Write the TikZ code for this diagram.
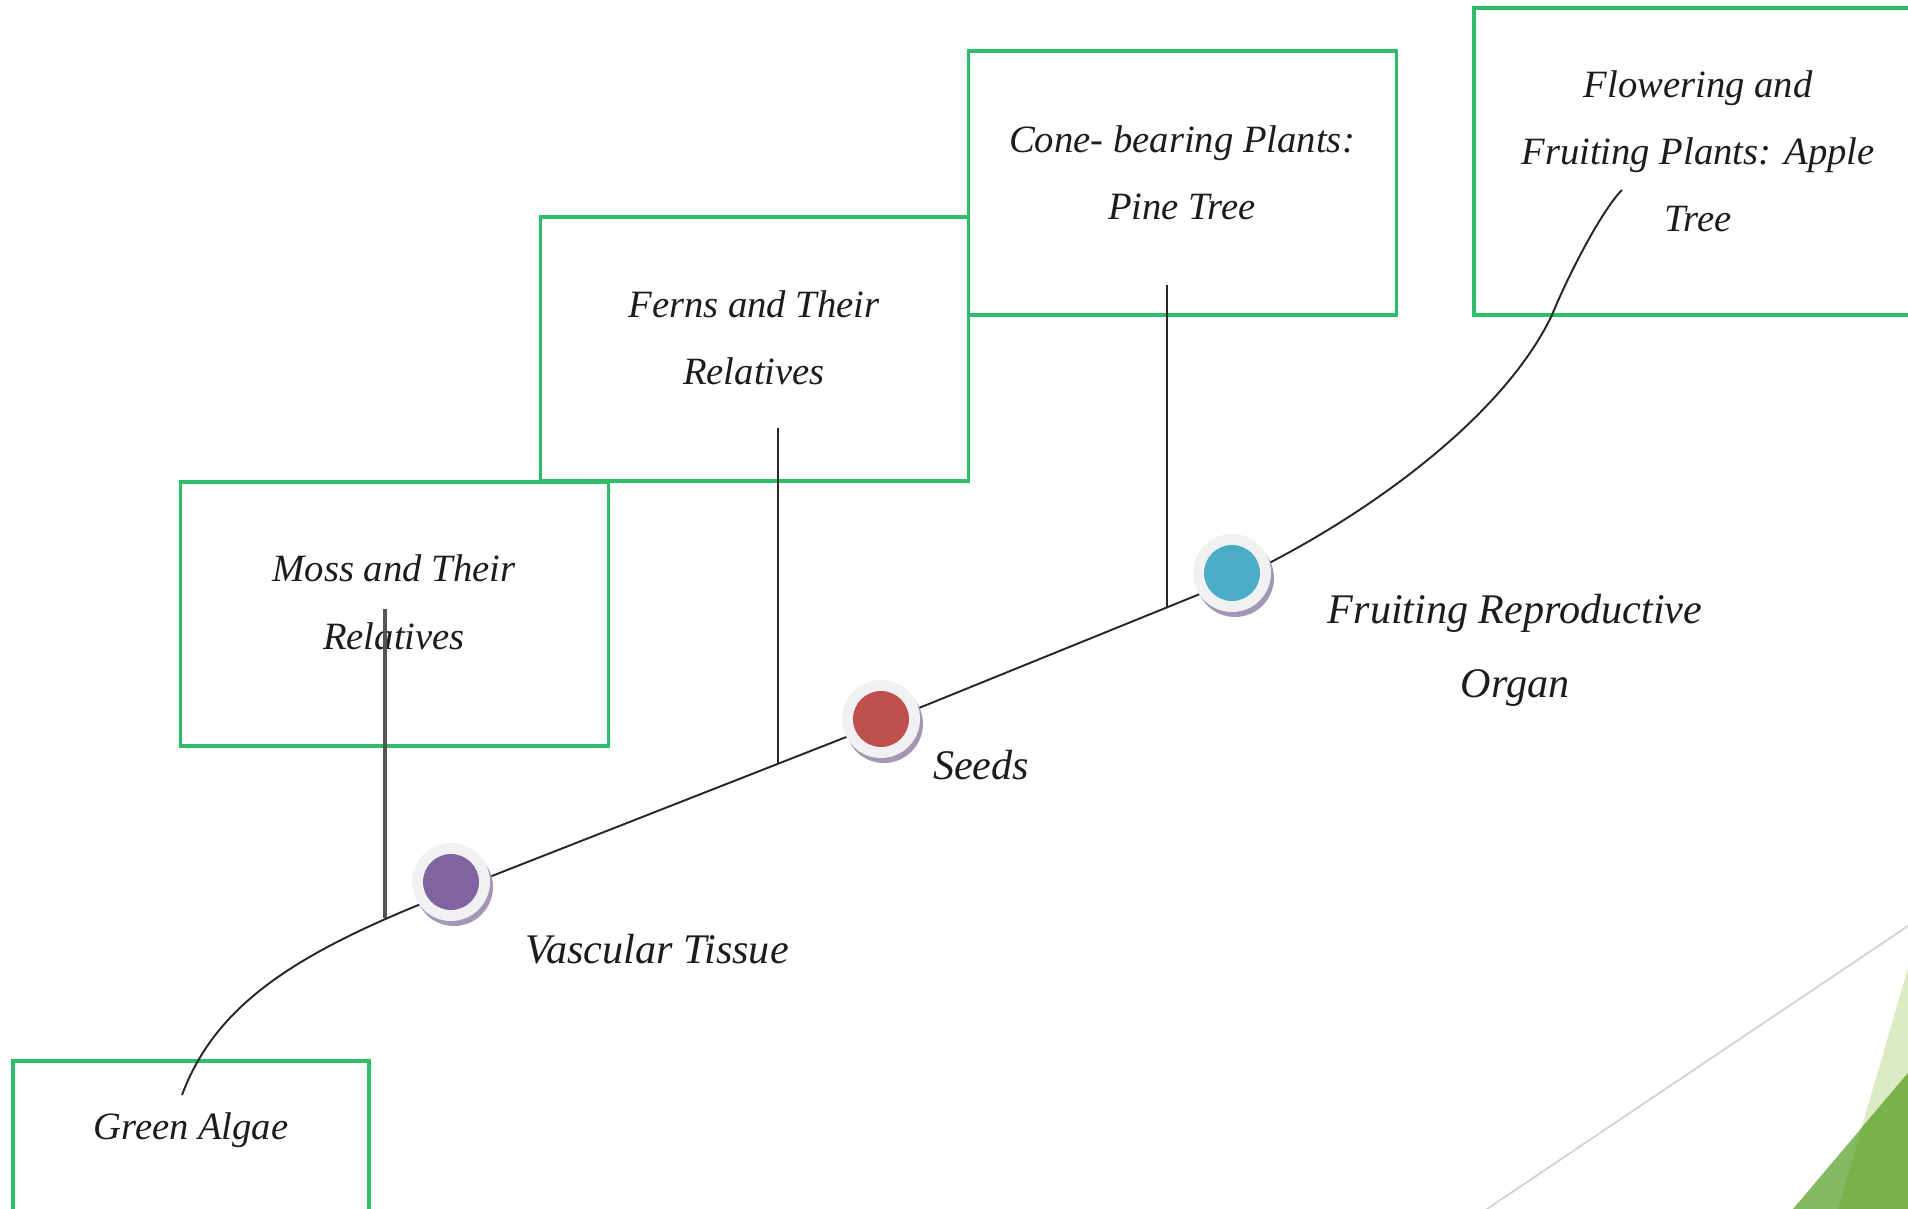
\documentclass[tikz,border=0pt]{standalone}
\usepackage{fontspec}
\setmainfont{Liberation Serif}
\usetikzlibrary{shadows}
\definecolor{boxgreen}{HTML}{2EBD6B}
\definecolor{txt}{HTML}{1C1C1C}
\definecolor{linec}{HTML}{262626}
\definecolor{mossline}{HTML}{555555}
\definecolor{purp}{HTML}{8064A2}
\definecolor{redc}{HTML}{C0504D}
\definecolor{bluec}{HTML}{4BACC6}
\definecolor{ringc}{HTML}{F1F0F3}
\definecolor{shadc}{HTML}{A397B4}
\definecolor{lightg}{HTML}{DDEBC5}
\definecolor{darkg}{HTML}{7AB24A}
\definecolor{darkgl}{HTML}{84B962}
\definecolor{grayl}{HTML}{D2D2D2}
\begin{document}
\begin{tikzpicture}[x=0.02cm,y=-0.02cm,
  stepbox/.style={draw=boxgreen, line width=1.9pt, rectangle, inner sep=0pt,
    minimum width=8.56cm, minimum height=5.28cm},
  boxtext/.style={text=txt, font=\fontsize{22}{38.2}\selectfont\itshape,
    align=center, anchor=base, inner sep=0pt},
  labtext/.style={text=txt, font=\fontsize{24}{42}\selectfont\itshape,
    align=center, anchor=base, inner sep=0pt},
  ring/.style={circle, fill=ringc, minimum size=1.56cm, inner sep=0pt,
    drop shadow={shadow xshift=0.06cm, shadow yshift=-0.1cm, fill=shadc, opacity=1}},
  disk/.style={circle, minimum size=1.12cm, inner sep=0pt},
  curve/.style={draw=linec, line width=1.1pt},
  tick/.style={draw=linec, line width=1.3pt},
  mosstick/.style={draw=mossline, line width=1.9pt},
]
\useasboundingbox (0,0) rectangle (1908,1209);
\clip (0,0) rectangle (1908,1209);

% decorative background shapes (bottom right)
\coordinate (g1) at (1420,1254);
\coordinate (g2) at (1960,891);
\draw[grayl, line width=1pt] (g1) -- (g2);
\fill[lightg] (1908,968) -- (1838,1209) -- (1908,1209) -- cycle;
\fill[darkgl] (1793,1209) -- (1908,1073) -- (1908,1209) -- cycle;
\begin{scope}
  \clip (1908,968) -- (1838,1209) -- (1908,1209) -- cycle;
  \fill[darkg] (1793,1209) -- (1908,1073) -- (1908,1209) -- cycle;
\end{scope}

% boxes
\node[stepbox, minimum width=7.12cm] (algaebox) at (191,1193) {};
\node[stepbox] (mossbox) at (394.5,614) {};
\node[stepbox] (fernbox) at (754.5,349) {};
\node[stepbox] (conebox) at (1182.5,183) {};
\node[stepbox, minimum width=9.04cm, minimum height=6.14cm] (flowerbox) at (1700,161.5) {};

% box texts (anchor = baseline of last line)
\node[boxtext] (algaet) at (191,1139) {Green Algae};
\node[boxtext] (mosst) at (394,649) {Moss and Their\\Relatives};
\node[boxtext] (fernt) at (754,385) {Ferns and Their\\Relatives};
\node[boxtext] (conet) at (1182,220) {Cone- bearing Plants:\\Pine Tree};
\node[boxtext] (flowert) at (1698,232) {Flowering and\\Fruiting Plants: Apple\\Tree};

% timeline curve
\coordinate (c0) at (182,1095);
\coordinate (c1) at (451,892);
\coordinate (c2) at (882,723);
\coordinate (c3) at (1232,581);
\coordinate (c4) at (1552,315);
\coordinate (c5) at (1622,190);
\draw[curve] (c0) .. controls (217,1001) and (302,950) .. (c1) -- (c2) -- (c3)
  .. controls (1332,536) and (1496,432) .. (c4)
  .. controls (1567,278) and (1601,211) .. (c5);

% vertical ticks
\coordinate (mt) at (385,609);
\coordinate (mb) at (385,918);
\coordinate (ft) at (778,428);
\coordinate (fb) at (778,764);
\coordinate (ct) at (1167,285);
\coordinate (cb) at (1167,607);
\draw[mosstick] (mt) -- (mb);
\draw[tick] (ft) -- (fb);
\draw[tick] (ct) -- (cb);

% milestone dots
\node[ring] (vascring) at (451,882) {};
\node[disk, fill=purp] (vasc) at (vascring.center) {};
\node[ring] (seedring) at (881,719) {};
\node[disk, fill=redc] (seed) at (seedring.center) {};
\node[ring] (fruitring) at (1232,573) {};
\node[disk, fill=bluec] (fruit) at (fruitring.center) {};

% milestone labels
\node[labtext] (vasct) at (657,963) {Vascular Tissue};
\node[labtext] (seedt) at (981,779) {Seeds};
\node[labtext] (fruitt) at (1515,697) {Fruiting Reproductive\\Organ};
\end{tikzpicture}
\end{document}
